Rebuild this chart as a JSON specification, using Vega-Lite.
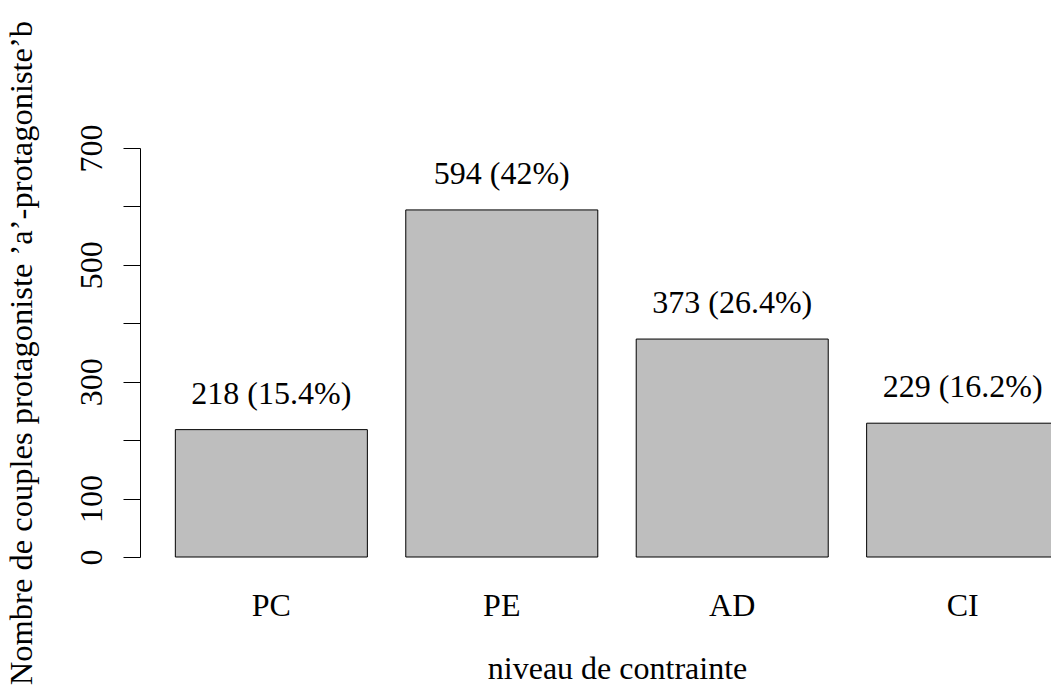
{
  "$schema": "https://vega.github.io/schema/vega-lite/v6.json",
  "autosize": "none",
  "padding": {"left": 140, "top": 148, "right": 0, "bottom": 138},
  "width": 911,
  "height": 409,
  "background": "white",
  "config": {
    "view": {"stroke": null},
    "font": "Liberation Serif",
    "axis": {"grid": false, "labelFont": "Liberation Serif", "titleFont": "Liberation Serif", "labelColor": "black", "titleColor": "black", "titleFontWeight": "normal"}
  },
  "data": {
    "values": [
      {"niveau": "PC", "n": 218, "label": "218 (15.4%)"},
      {"niveau": "PE", "n": 594, "label": "594 (42%)"},
      {"niveau": "AD", "n": 373, "label": "373 (26.4%)"},
      {"niveau": "CI", "n": 229, "label": "229 (16.2%)"}
    ]
  },
  "encoding": {
    "x": {
      "field": "niveau", "type": "nominal", "sort": null,
      "scale": {"range": [0, 954], "paddingInner": 0.16667, "paddingOuter": 0.15333},
      "axis": {
        "title": "niveau de contrainte",
        "domain": false, "ticks": false, "tickSize": 0,
        "labelAngle": 0, "labelFontSize": 32, "labelBaseline": "alphabetic", "labelPadding": 58,
        "titleFontSize": 32, "titleBaseline": "alphabetic", "titleX": 477, "titleY": 121, "titleAlign": "center"
      }
    },
    "y": {
      "field": "n", "type": "quantitative",
      "scale": {"domain": [0, 700], "nice": false, "zero": true},
      "axis": {
        "title": "Nombre de couples protagoniste ’a’-protagoniste’b",
        "values": [0, 100, 200, 300, 400, 500, 600, 700],
        "labelExpr": "(datum.value == 200 || datum.value == 400 || datum.value == 600) ? '' : datum.label",
        "domainColor": "black", "domainWidth": 1, "tickColor": "black", "tickWidth": 1, "tickSize": 17,
        "labelAngle": -90, "labelAlign": "center", "labelBaseline": "middle", "labelPadding": 32, "labelFontSize": 32,
        "labelOverlap": false,
        "titleFontSize": 32.5, "titleAngle": -90, "titleBaseline": "middle", "titleX": -119, "titleY": 204.5, "titleAlign": "center"
      }
    }
  },
  "layer": [
    {"mark": {"type": "bar", "fill": "#BEBEBE", "stroke": "black", "strokeWidth": 1}},
    {"mark": {"type": "text", "fontSize": 32, "font": "Liberation Serif", "color": "black", "baseline": "middle", "dy": -36}, "encoding": {"text": {"field": "label"}}}
  ]
}
